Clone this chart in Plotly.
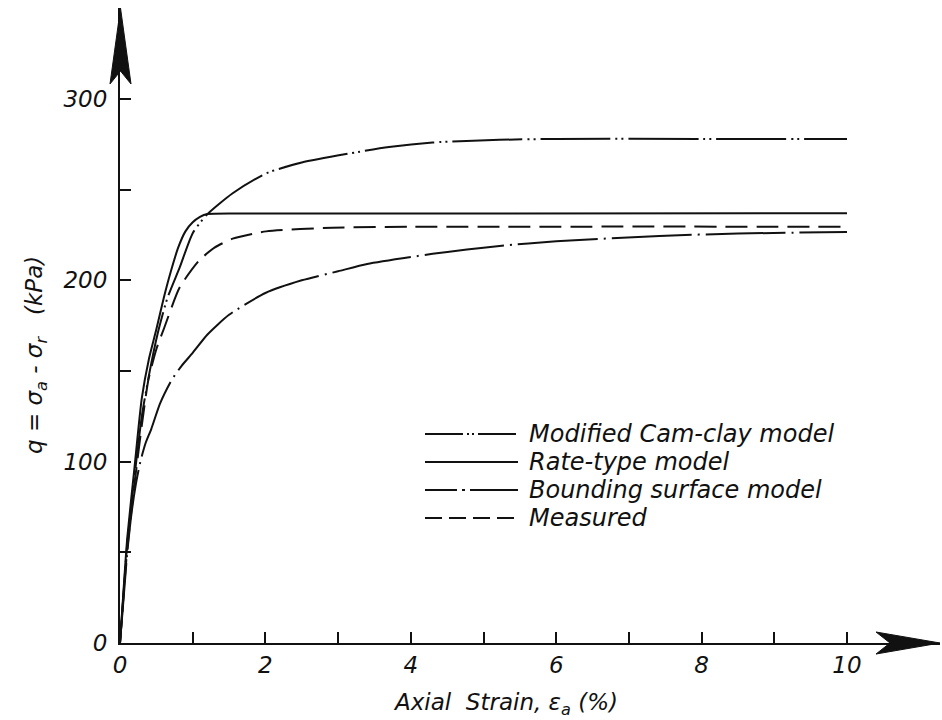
import plotly.graph_objects as go

# Triaxial test: deviator stress vs axial strain
strain_camclay = [0, 0.05, 0.1, 0.2, 0.3, 0.4, 0.52, 0.65, 0.82, 1.0, 1.19, 1.55, 2.01, 2.5, 3.16, 3.7, 4.3, 5.22, 6.0, 8.0, 10.0]
q_camclay = [0, 28, 55, 92, 125, 148, 171, 190, 207, 226, 236, 248, 259, 265, 270, 273.5, 276, 277.5, 278, 278, 278]

strain_rate = [0, 0.05, 0.1, 0.2, 0.3, 0.4, 0.5, 0.6, 0.7, 0.8, 0.9, 1.0, 1.1, 1.2, 2.0, 10.0]
q_rate = [0, 30, 58, 97, 135, 157, 173, 190, 205, 218, 227, 232, 235, 236.6, 236.8, 237]

strain_bounding = [0, 0.05, 0.1, 0.16, 0.22, 0.28, 0.35, 0.43, 0.55, 0.71, 0.85, 1.0, 1.2, 1.5, 2.0, 2.5, 3.0, 3.4, 4.3, 5.22, 6.0, 7.42, 8.5, 10.0]
q_bounding = [0, 25, 50, 72, 88, 100, 110, 118, 132, 145, 153, 160, 170, 181, 193, 200, 205, 209, 214.6, 219, 221.5, 224.5, 225.8, 226.7]

strain_measured = [0, 0.05, 0.1, 0.2, 0.3, 0.39, 0.5, 0.61, 0.82, 1.09, 1.3, 1.55, 2.01, 2.92, 4.0, 10.0]
q_measured = [0, 27, 52, 88, 120, 145, 162, 174, 196, 211, 218, 223, 227, 229, 229.5, 229.6]

series_names = ["Modified Cam-clay model", "Rate-type model", "Bounding surface model", "Measured"]

x_major_ticks = [0, 2, 4, 6, 8, 10]
x_minor_ticks = [1, 3, 5, 7, 9]
y_major_ticks = [0, 100, 200, 300]
y_minor_ticks = [50, 150, 250]

# page geometry (pixels)
W, H = 942, 720
L, B, T, R = 120, 77, 8, 2
PX_X = 72.7          # pixels per % strain
PX_Y = 544 / 300     # pixels per kPa
x_max = (W - L - R) / PX_X
y_max = (H - B - T) / PX_Y
PW, PH = W - L - R, H - B - T


def px(x):
    """page pixel column -> paper x"""
    return (x - L) / PW


def py(y):
    """page pixel row -> paper y"""
    return (H - B - y) / PH


FONT = "DejaVu Sans"
INK = "#111111"

dashes = {
    "Modified Cam-clay model": "70px,5px,2px,4px,2px,5px",
    "Rate-type model": "solid",
    "Bounding surface model": "80px,6px,2px,6px",
    "Measured": "22px,9px",
}
legend_dashes = {
    "Modified Cam-clay model": "38px,4px,2px,3px,2px,4px",
    "Rate-type model": "solid",
    "Bounding surface model": "32px,5px,3px,5px,60px,10px",
    "Measured": "17px,7px",
}

data = [
    (strain_camclay, q_camclay),
    (strain_rate, q_rate),
    (strain_bounding, q_bounding),
    (strain_measured, q_measured),
]

fig = go.Figure()
for name, (xs, ys) in zip(series_names, data):
    fig.add_trace(go.Scatter(
        x=xs, y=ys, mode="lines", name=name, showlegend=False,
        line=dict(color=INK, width=2, dash=dashes[name], shape="spline", smoothing=0.6),
        hoverinfo="skip",
    ))

shapes = []
# arrowheads on the axes
shapes.append(dict(
    type="path", xref="paper", yref="paper",
    path=(f"M {px(120.5)},{py(8)} L {px(131)},{py(84)} L {px(120.5)},{py(71)} "
          f"L {px(110)},{py(84)} Z"),
    fillcolor=INK, line=dict(color=INK, width=1), layer="above",
))
shapes.append(dict(
    type="path", xref="paper", yref="paper",
    path=(f"M {px(940)},{py(643)} L {px(876)},{py(632)} L {px(890)},{py(643)} "
          f"L {px(876)},{py(654)} Z"),
    fillcolor=INK, line=dict(color=INK, width=1), layer="above",
))

# legend keys
legend_rows = [434, 462, 490, 518]
annotations = []
for name, row in zip(series_names, legend_rows):
    shapes.append(dict(
        type="line", xref="paper", yref="paper",
        x0=px(425), x1=px(518), y0=py(row), y1=py(row),
        line=dict(color=INK, width=2, dash=legend_dashes[name]),
    ))
    annotations.append(dict(
        x=px(527), y=py(row), xref="paper", yref="paper", text=name, showarrow=False,
        xanchor="left", yanchor="middle",
        font=dict(family=FONT, size=24, color=INK, style="italic"),
    ))

annotations.append(dict(
    x=px(505), y=py(704), xref="paper", yref="paper",
    text="Axial  Strain, ε<sub>a</sub> (%)", showarrow=False,
    xanchor="center", yanchor="middle",
    font=dict(family=FONT, size=23, color=INK, style="italic"),
))
annotations.append(dict(
    x=px(36), y=py(355), xref="paper", yref="paper",
    text="q = σ<sub>a</sub> - σ<sub>r</sub>   (kPa)", showarrow=False, textangle=-90,
    xanchor="center", yanchor="middle",
    font=dict(family=FONT, size=23, color=INK, style="italic"),
))

tick_font = dict(family=FONT, size=23, color=INK, style="italic")
fig.update_layout(
    width=W, height=H,
    margin=dict(l=L, r=R, t=T, b=B, pad=0),
    paper_bgcolor="white", plot_bgcolor="white",
    shapes=shapes, annotations=annotations,
    showlegend=False,
    xaxis=dict(
        range=[0, x_max], showgrid=False, zeroline=False,
        showline=True, linecolor=INK, linewidth=2,
        ticks="inside", ticklen=11, tickwidth=1.5, tickcolor=INK,
        tickvals=x_major_ticks, ticktext=[str(v) for v in x_major_ticks],
        tickfont=tick_font, ticklabelstandoff=0,
        minor=dict(tickvals=x_minor_ticks, ticks="inside", ticklen=11,
                   tickwidth=1.5, tickcolor=INK, showgrid=False),
    ),
    yaxis=dict(
        range=[0, y_max], showgrid=False, zeroline=False,
        showline=True, linecolor=INK, linewidth=2,
        ticks="inside", ticklen=11, tickwidth=1.5, tickcolor=INK,
        tickvals=y_major_ticks, ticktext=[str(v) for v in y_major_ticks],
        tickfont=tick_font, ticklabelstandoff=6,
        minor=dict(tickvals=y_minor_ticks, ticks="inside", ticklen=11,
                   tickwidth=1.5, tickcolor=INK, showgrid=False),
    ),
)

fig.write_html("out.html")
